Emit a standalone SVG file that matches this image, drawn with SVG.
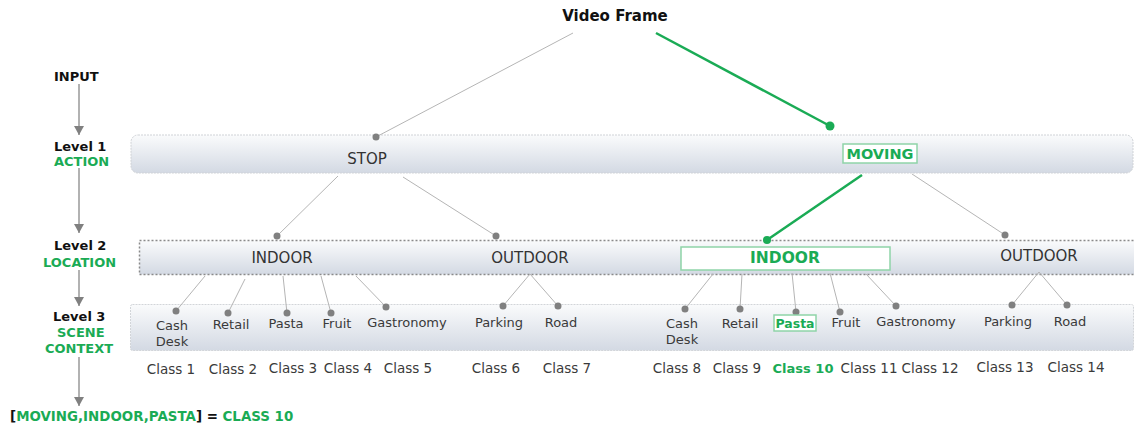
<svg xmlns="http://www.w3.org/2000/svg" width="1134" height="429" viewBox="0 0 1134 429">
<defs>
<linearGradient id="band" x1="0" y1="0" x2="0" y2="1">
<stop offset="0" stop-color="#fafbfc"/>
<stop offset="1" stop-color="#d3d9e3"/>
</linearGradient>
<marker id="arr" markerWidth="10" markerHeight="10" refX="9" refY="5" orient="auto" markerUnits="userSpaceOnUse">
<path d="M0,0 L9,5 L0,10 z" fill="#808080"/>
</marker>
<style>
text{font-family:"DejaVu Sans",Verdana,sans-serif;}
.b{font-weight:bold;fill:#111;font-size:13px;}
.g{fill:#1aab55;}
.t{fill:#3a3a3a;font-size:13px;}
.c{fill:#3a3a3a;font-size:13.5px;}
.t15{fill:#333;font-size:15px;}
.ln{stroke:#b5b5b5;stroke-width:1;fill:none;}
.gl{stroke:#1aab55;stroke-width:2.5;fill:none;}
.dot{fill:#808080;}
.gdot{fill:#1aab55;}
.gbox{fill:#fff;stroke:#8fd4a8;stroke-width:1.5;}
.side{stroke:#999;stroke-width:1.5;fill:none;}
</style>
</defs>
<rect width="1134" height="429" fill="#fff"/>

<!-- bands -->
<g id="band1"><rect x="131" y="135" width="1002" height="38" rx="7" fill="url(#band)" stroke="#cfd2d6" stroke-dasharray="2,1"/></g>
<g id="band2"><rect x="139.5" y="240.5" width="1000" height="34" fill="url(#band)" stroke="#8a8a8a" stroke-width="1.5" stroke-dasharray="2,2"/></g>
<g id="band3"><rect x="130.5" y="304.5" width="1003" height="46" rx="2" fill="url(#band)" stroke="#d2d5d9" stroke-dasharray="2,1"/></g>

<!-- side labels -->
<g id="side">
<text x="54" y="81" class="b">INPUT</text>
<text x="54" y="151" class="b">Level 1</text>
<text x="54" y="166" class="b g">ACTION</text>
<text x="54" y="250" class="b">Level 2</text>
<text x="43" y="267" class="b g">LOCATION</text>
<text x="53" y="321" class="b">Level 3</text>
<text x="57" y="337" class="b g">SCENE</text>
<text x="45" y="353" class="b g">CONTEXT</text>
<line x1="79" y1="84" x2="79" y2="135" class="side" marker-end="url(#arr)"/>
<line x1="79" y1="168" x2="79" y2="233" class="side" marker-end="url(#arr)"/>
<line x1="79" y1="270" x2="79" y2="306" class="side" marker-end="url(#arr)"/>
<line x1="79" y1="357" x2="79" y2="406" class="side" marker-end="url(#arr)"/>
</g>

<!-- connectors -->
<g id="connectors">
<line x1="573" y1="33" x2="376" y2="137" class="ln"/>
<line x1="656" y1="33" x2="830" y2="126" class="gl"/>
<line x1="338" y1="176" x2="277" y2="236" class="ln"/>
<line x1="403" y1="177" x2="496" y2="236" class="ln"/>
<line x1="862" y1="175" x2="767" y2="240" class="gl"/>
<line x1="912" y1="174" x2="1005" y2="235" class="ln"/>
<line x1="205" y1="276" x2="176" y2="311" class="ln"/>
<line x1="245" y1="279" x2="228" y2="313" class="ln"/>
<line x1="283" y1="276" x2="287" y2="313" class="ln"/>
<line x1="321" y1="276" x2="331" y2="313" class="ln"/>
<line x1="356" y1="276" x2="386" y2="307" class="ln"/>
<line x1="530" y1="274" x2="503" y2="306" class="ln"/>
<line x1="530" y1="274" x2="558" y2="306" class="ln"/>
<line x1="713" y1="274" x2="685" y2="309" class="ln"/>
<line x1="742" y1="274" x2="740" y2="309" class="ln"/>
<line x1="792" y1="273" x2="796" y2="312" class="ln"/>
<line x1="830" y1="273" x2="840" y2="312" class="ln"/>
<line x1="866" y1="274" x2="896" y2="306" class="ln"/>
<line x1="1039" y1="272" x2="1012" y2="305" class="ln"/>
<line x1="1039" y1="272" x2="1067" y2="305" class="ln"/>
<circle cx="376" cy="137" r="3.5" class="dot"/>
<circle cx="830" cy="126" r="4.5" class="gdot"/>
<circle cx="277" cy="236" r="3.5" class="dot"/>
<circle cx="496" cy="236" r="3.5" class="dot"/>
<circle cx="767" cy="240" r="4" class="gdot"/>
<circle cx="1005" cy="235" r="3.5" class="dot"/>
<circle cx="176" cy="311" r="3.5" class="dot"/>
<circle cx="228" cy="313" r="3.5" class="dot"/>
<circle cx="287" cy="313" r="3.5" class="dot"/>
<circle cx="331" cy="313" r="3.5" class="dot"/>
<circle cx="386" cy="307" r="3.5" class="dot"/>
<circle cx="503" cy="306" r="3.5" class="dot"/>
<circle cx="558" cy="306" r="3.5" class="dot"/>
<circle cx="685" cy="309" r="3.5" class="dot"/>
<circle cx="740" cy="309" r="3.5" class="dot"/>
<circle cx="796" cy="312" r="3.5" class="dot"/>
<circle cx="840" cy="312" r="3.5" class="dot"/>
<circle cx="896" cy="306" r="3.5" class="dot"/>
<circle cx="1012" cy="305" r="3.5" class="dot"/>
<circle cx="1067" cy="305" r="3.5" class="dot"/>
</g>

<g id="videoframe"><text x="615" y="21" text-anchor="middle" font-size="15" font-weight="bold" fill="#111">Video Frame</text></g>

<!-- level 1 -->
<g id="stop"><text x="367" y="164" text-anchor="middle" class="t15">STOP</text></g>
<g id="moving"><rect x="843" y="144" width="74" height="19" class="gbox"/><text x="880" y="159" text-anchor="middle" font-size="14.5" font-weight="bold" class="g">MOVING</text></g>

<!-- level 2 -->
<g id="indoor1"><text x="282" y="263" text-anchor="middle" class="t15">INDOOR</text></g>
<g id="outdoor1"><text x="530" y="263" text-anchor="middle" class="t15">OUTDOOR</text></g>
<g id="indoor2"><rect x="681" y="247" width="209" height="23" class="gbox"/><text x="785" y="263" text-anchor="middle" font-size="15.5" font-weight="bold" class="g">INDOOR</text></g>
<g id="outdoor2"><text x="1039" y="261" text-anchor="middle" class="t15">OUTDOOR</text></g>

<!-- level 3 -->
<g id="cash1"><text x="172" y="330" text-anchor="middle" class="t">Cash</text><text x="172" y="346" text-anchor="middle" class="t">Desk</text></g>
<g id="retail1"><text x="231" y="329" text-anchor="middle" class="t">Retail</text></g>
<g id="pasta1"><text x="286" y="328" text-anchor="middle" class="t">Pasta</text></g>
<g id="fruit1"><text x="337" y="328" text-anchor="middle" class="t">Fruit</text></g>
<g id="gastro1"><text x="407" y="327" text-anchor="middle" class="t">Gastronomy</text></g>
<g id="parking1"><text x="499" y="327" text-anchor="middle" class="t">Parking</text></g>
<g id="road1"><text x="561" y="327" text-anchor="middle" class="t">Road</text></g>
<g id="cash2"><text x="682" y="328" text-anchor="middle" class="t">Cash</text><text x="682" y="344" text-anchor="middle" class="t">Desk</text></g>
<g id="retail2"><text x="740" y="328" text-anchor="middle" class="t">Retail</text></g>
<g id="pasta2"><rect x="774" y="315" width="42" height="16" class="gbox"/><text x="795" y="328" text-anchor="middle" font-size="12.5" font-weight="bold" class="g">Pasta</text></g>
<g id="fruit2"><text x="846" y="327" text-anchor="middle" class="t">Fruit</text></g>
<g id="gastro2"><text x="916" y="326" text-anchor="middle" class="t">Gastronomy</text></g>
<g id="parking2"><text x="1008" y="326" text-anchor="middle" class="t">Parking</text></g>
<g id="road2"><text x="1070" y="326" text-anchor="middle" class="t">Road</text></g>

<!-- classes -->
<g id="classes">
<text x="171" y="374" text-anchor="middle" class="c">Class 1</text>
<text x="233" y="374" text-anchor="middle" class="c">Class 2</text>
<text x="293" y="373" text-anchor="middle" class="c">Class 3</text>
<text x="348" y="373" text-anchor="middle" class="c">Class 4</text>
<text x="408" y="373" text-anchor="middle" class="c">Class 5</text>
<text x="496" y="373" text-anchor="middle" class="c">Class 6</text>
<text x="567" y="373" text-anchor="middle" class="c">Class 7</text>
<text x="677" y="373" text-anchor="middle" class="c">Class 8</text>
<text x="737" y="373" text-anchor="middle" class="c">Class 9</text>
<text x="803" y="373" text-anchor="middle" font-size="13" font-weight="bold" class="g">Class 10</text>
<text x="869" y="373" text-anchor="middle" class="c">Class 11</text>
<text x="930" y="373" text-anchor="middle" class="c">Class 12</text>
<text x="1005" y="372" text-anchor="middle" class="c">Class 13</text>
<text x="1076" y="372" text-anchor="middle" class="c">Class 14</text>
</g>

<g id="formula"><text x="10" y="421" font-size="13.4" font-weight="bold" fill="#111">[<tspan class="g">MOVING,INDOOR,PASTA</tspan>] = <tspan class="g">CLASS 10</tspan></text></g>
</svg>
